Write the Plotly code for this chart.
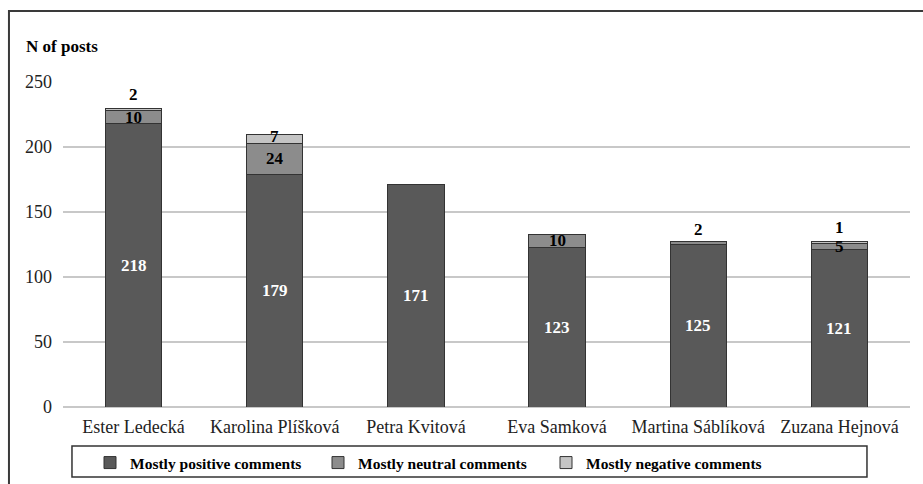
import plotly.graph_objects as go

athletes = ["Ester Ledecká", "Karolina Plíšková", "Petra Kvitová",
            "Eva Samková", "Martina Sáblíková", "Zuzana Hejnová"]
positive = [218, 179, 171, 123, 125, 121]
neutral = [10, 24, 0, 10, 2, 5]
negative = [2, 7, 0, 0, 0, 1]
y_ticks = [0, 50, 100, 150, 200, 250]

SERIF = "Liberation Serif"
W, H = 923, 484

series = [
    ("Mostly positive comments", positive, "#595959"),
    ("Mostly neutral comments", neutral, "#8c8c8c"),
    ("Mostly negative comments", negative, "#c4c4c4"),
]

fig = go.Figure()
for name, vals, color in series:
    fig.add_trace(go.Bar(
        x=athletes, y=vals, name=name,
        marker=dict(color=color, line=dict(color="#333333", width=1)),
        width=0.4,
    ))


def label_font(color, size=17):
    return dict(family=SERIF, size=size, color=color, weight="bold")


# value labels: centred in the segment, or just above the bar when the segment is thin
annotations = []
for i, cat in enumerate(athletes):
    p, n, g = positive[i], neutral[i], negative[i]
    top = p + n + g
    annotations.append(dict(x=cat, y=p / 2, text=str(p), showarrow=False,
                            font=label_font("white")))
    if n:
        if n >= 5:
            annotations.append(dict(x=cat, y=p + n / 2, text=str(n), showarrow=False,
                                    font=label_font("black")))
        else:
            annotations.append(dict(x=cat, y=top, yshift=12, text=str(n), showarrow=False,
                                    font=label_font("black")))
    if g:
        if g >= 5:
            annotations.append(dict(x=cat, y=p + n + g / 2, yshift=2, text=str(g), showarrow=False,
                                    font=label_font("black")))
        else:
            annotations.append(dict(x=cat, y=top, yshift=14, text=str(g), showarrow=False,
                                    font=label_font("black")))

annotations.append(dict(xref="paper", yref="paper", x=-0.046, y=1.108,
                        xanchor="left", yanchor="middle", text="N of posts", showarrow=False,
                        font=label_font("black")))

fig.update_layout(
    width=W, height=H,
    margin=dict(l=63, r=13, t=82, b=77, autoexpand=False),
    barmode="stack",
    plot_bgcolor="white", paper_bgcolor="white",
    font=dict(family=SERIF, size=18, color="#222222"),
    showlegend=True,
    legend=dict(
        orientation="h", xref="container", yref="container",
        x=90 / W, y=1 - 446 / H, xanchor="left", yanchor="top",
        borderwidth=0, bgcolor="rgba(0,0,0,0)",
        font=dict(family=SERIF, size=15.5, color="black", weight="bold"),
        entrywidth=183, itemwidth=30,
        traceorder="normal",
    ),
    annotations=annotations,
    shapes=[
        # outer frame (top and left edges)
        dict(type="path", xref="paper", yref="paper",
             path="M 1.1,1.2185 L -0.0638,1.2185 L -0.0638,-0.3",
             line=dict(color="#3a3a3a", width=2)),
        # legend box
        dict(type="rect", xref="paper", yref="paper",
             x0=0.0106, x1=0.9492, y0=-0.2154, y1=-0.12,
             line=dict(color="#333333", width=1.5)),
    ],
)
fig.update_xaxes(showgrid=False, showline=False, ticks="", ticklabelstandoff=7,
                 automargin=False,
                 tickfont=dict(family=SERIF, size=18, color="#222222"))
fig.update_yaxes(range=[0, 250], tickvals=y_ticks, showgrid=True, gridcolor="#c8c8c8",
                 gridwidth=1.5, zeroline=True, zerolinecolor="#c8c8c8", zerolinewidth=1.5,
                 showline=False, ticks="", ticklabelstandoff=10, automargin=False,
                 tickfont=dict(family=SERIF, size=18, color="#222222"))

fig.write_html("out.html")
